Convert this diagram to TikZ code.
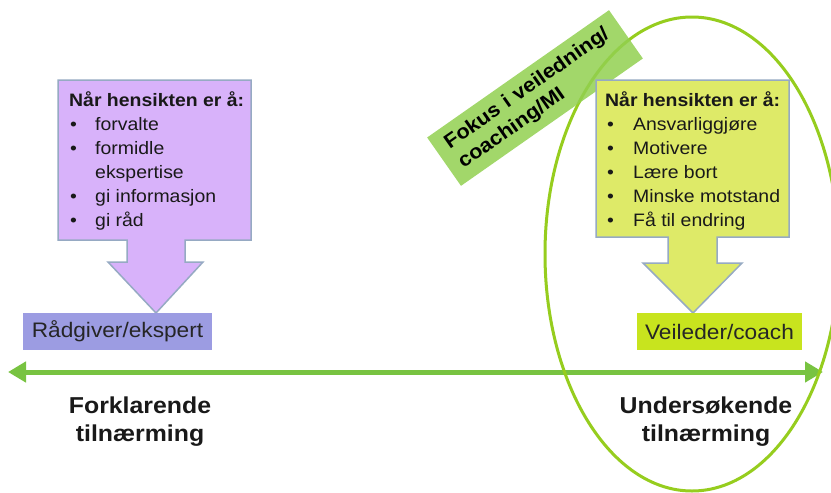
\documentclass[tikz,border=0pt]{standalone}
\usepackage{fontspec}
\setmainfont{Liberation Sans}[FakeStretch=1.08]
\usetikzlibrary{arrows.meta}
\definecolor{lavfill}{RGB}{216,178,250}
\definecolor{radfill}{RGB}{156,156,226}
\definecolor{yelfill}{RGB}{222,234,104}
\definecolor{veifill}{RGB}{200,228,30}
\definecolor{callborder}{RGB}{150,170,195}
\definecolor{fokusgreen}{RGB}{146,208,80}
\definecolor{ellgreen}{RGB}{150,205,30}
\definecolor{arrowgreen}{RGB}{120,195,65}
\tikzset{
  callout/.style={draw=callborder, line width=1.5pt, line join=miter},
  labelbox/.style={inner sep=0pt, font=\fontsize{21}{25}\selectfont, text=black!85},
  calltext/.style={anchor=base west, inner sep=0pt, font=\fontsize{18}{24}\selectfont, text=black!90},
  calltitle/.style={calltext, font=\bfseries\fontsize{18}{24}\selectfont},
  bottomtext/.style={anchor=base, inner sep=0pt, font=\bfseries\fontsize{23}{28}\selectfont, text=black!90},
  fokusbox/.style={fill=fokusgreen, fill opacity=0.85, text opacity=1, minimum width=222pt, minimum height=59pt, text width=198pt, inner xsep=12pt, inner ysep=0pt, align=left, font=\bfseries\fontsize{20}{24}\selectfont},
  mainarrow/.style={draw=arrowgreen, line width=5pt, {Triangle[length=18pt,width=20pt]}-{Triangle[length=18pt,width=20pt]}},
  ellline/.style={draw=ellgreen, line width=3pt}
}
\begin{document}
\begin{tikzpicture}[x=1pt,y=-1pt]
\useasboundingbox (0,0) rectangle (831,493);
\fill[white] (0,0) rectangle (831,493);

% main double arrow
\coordinate (aL) at (8,372);
\coordinate (aR) at (823,372);
\draw[mainarrow] (aL) -- (aR);

% ellipse
\draw[ellline] (692,254) ellipse [x radius=147pt, y radius=237pt];

% rotated focus label
\node[fokusbox, rotate=35] (fokus) at (535,98) {Fokus i veiledning/\\coaching/MI};

% left callout
\filldraw[callout, fill=lavfill] (58,80) -- (251,80) -- (251,240) -- (185,240) -- (185,262) -- (203,262) -- (156,313) -- (108,262) -- (127,262) -- (127,240) -- (58,240) -- cycle;
% right callout
\filldraw[callout, fill=yelfill] (596,80) -- (789,80) -- (789,237) -- (717,237) -- (717,263) -- (742,263) -- (693,313) -- (643,263) -- (668,263) -- (668,237) -- (596,237) -- cycle;

% labels
\node[labelbox, fill=radfill, minimum width=189pt, minimum height=37pt] (rad) at (117.5,331.5) {Rådgiver/ekspert};
\node[labelbox, fill=veifill, minimum width=165pt, minimum height=37pt] (vei) at (719.5,331.5) {Veileder/coach};

% left callout text
\node[calltitle] (lt) at (69,106) {Når hensikten er å:};
\node[calltext] (lb1) at (70,130) {•};
\node[calltext] (li1) at (95,130) {forvalte};
\node[calltext] (lb2) at (70,154) {•};
\node[calltext] (li2) at (95,154) {formidle};
\node[calltext] (li2b) at (95,178) {ekspertise};
\node[calltext] (lb3) at (70,202) {•};
\node[calltext] (li3) at (95,202) {gi informasjon};
\node[calltext] (lb4) at (70,226) {•};
\node[calltext] (li4) at (95,226) {gi råd};

% right callout text
\node[calltitle] (rt) at (605,106) {Når hensikten er å:};
\node[calltext] (rb1) at (607,130) {•};
\node[calltext] (ri1) at (633,130) {Ansvarliggjøre};
\node[calltext] (rb2) at (607,154) {•};
\node[calltext] (ri2) at (633,154) {Motivere};
\node[calltext] (rb3) at (607,178) {•};
\node[calltext] (ri3) at (633,178) {Lære bort};
\node[calltext] (rb4) at (607,202) {•};
\node[calltext] (ri4) at (633,202) {Minske motstand};
\node[calltext] (rb5) at (607,226) {•};
\node[calltext] (ri5) at (633,226) {Få til endring};

% bottom texts
\node[bottomtext] (fk1) at (140,413) {Forklarende};
\node[bottomtext] (fk2) at (140,441) {tilnærming};
\node[bottomtext] (us1) at (706,413) {Undersøkende};
\node[bottomtext] (us2) at (706,441) {tilnærming};
\end{tikzpicture}
\end{document}
